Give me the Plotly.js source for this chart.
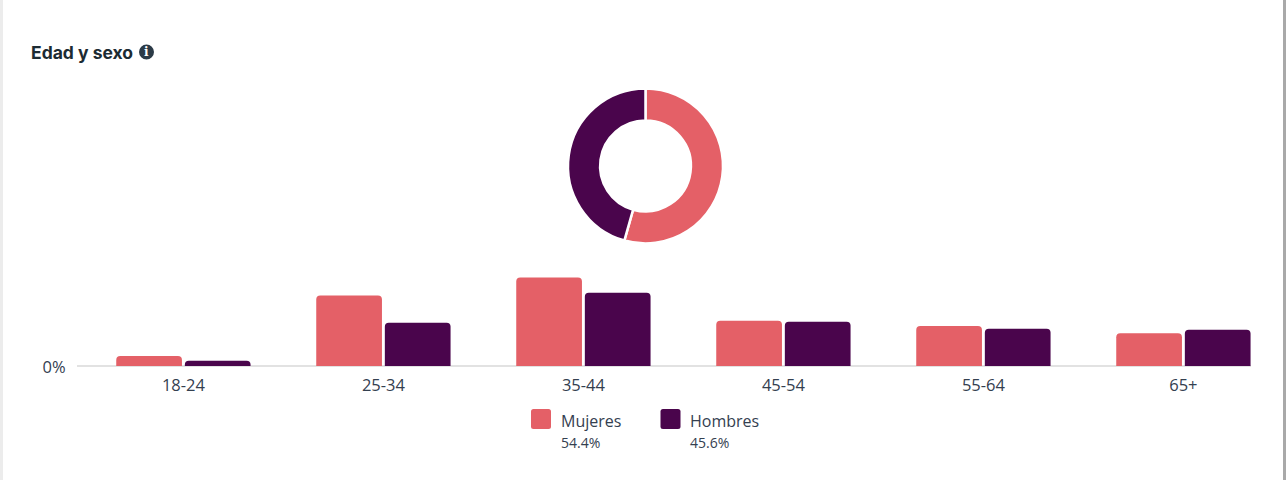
<!DOCTYPE html>
<html>
<head>
<meta charset="utf-8">
<script src="https://cdn.plot.ly/plotly-3.0.1.min.js"></script>
<style>html,body{margin:0;padding:0;background:#fff;overflow:hidden}#chart{width:1286px;height:480px}</style>
</head>
<body>
<div id="chart"></div>
<script>
const categories = ["18-24", "25-34", "35-44", "45-54", "55-64", "65+"];
const mujeres = [1.9, 13.4, 16.8, 8.6, 7.6, 6.2];
const hombres = [1.0, 8.2, 13.9, 8.4, 7.1, 6.9];
const seriesNames = ["Mujeres", "Hombres"];
const shares = [54.4, 45.6];
const shareLabels = ["54.4%", "45.6%"];
const titleText = "Edad y sexo";
const yTickValues = [0];
const yTickLabels = ["0%"];
const rose = "#E46067";
const plum = "#4A054C";
const W = 1286, H = 480;
const px = v => v / W, py = v => 1 - v / H;
const font = "'Open Sans', 'Noto Sans', sans-serif";
const ink = "#344050";

function swatch(x, y, s, r, color) {
  const x0 = px(x), x1 = px(x + s), y0 = py(y), y1 = py(y + s);
  const rx = r / W, ry = r / H;
  return {
    type: "path", xref: "paper", yref: "paper", fillcolor: color, line: {width: 0},
    path: `M${x0 + rx},${y0} L${x1 - rx},${y0} Q${x1},${y0} ${x1},${y0 - ry} L${x1},${y1 + ry} Q${x1},${y1} ${x1 - rx},${y1} L${x0 + rx},${y1} Q${x0},${y1} ${x0},${y1 + ry} L${x0},${y0 - ry} Q${x0},${y0} ${x0 + rx},${y0} Z`
  };
}
function label(x, y, text, size, color, extra) {
  return Object.assign({
    xref: "paper", yref: "paper", x: px(x), y: py(y), text, showarrow: false,
    xanchor: "left", yanchor: "middle", align: "left",
    font: {family: font, size, color}
  }, extra || {});
}

const traces = [
  {type: "bar", name: seriesNames[0], x: categories, y: mujeres, marker: {color: rose, cornerradius: 4}, hoverinfo: "skip"},
  {type: "bar", name: seriesNames[1], x: categories, y: hombres, marker: {color: plum, cornerradius: 4}, hoverinfo: "skip"},
  {type: "pie", labels: seriesNames, values: shares, hole: 0.586, sort: false, direction: "clockwise", rotation: 0,
   textinfo: "none", hoverinfo: "skip", showlegend: false,
   marker: {colors: [rose, plum], line: {color: "#ffffff", width: 2.5}},
   domain: {x: [px(645.5 - 77.5), px(645.5 + 77.5)], y: [py(166 + 77.5), py(166 - 77.5)]}}
];

const layout = {
  width: W, height: H, margin: {l: 0, r: 0, t: 0, b: 0},
  paper_bgcolor: "#ffffff", plot_bgcolor: "#ffffff", showlegend: false,
  barmode: "group", bargap: 0.314, bargroupgap: 0.042,
  font: {family: font, color: ink},
  xaxis: {
    type: "category", domain: [px(77), px(1251)], range: [-0.532, 5.338], anchor: "y",
    showgrid: false, zeroline: false, showline: false, fixedrange: true,
    ticks: "outside", ticklen: 4, tickcolor: "rgba(0,0,0,0)",
    tickfont: {family: font, size: 16.5, color: ink}
  },
  yaxis: {
    domain: [py(366), py(250)], range: [0, 22.04], anchor: "x",
    tickmode: "array", tickvals: yTickValues, ticktext: yTickLabels,
    showgrid: false, zeroline: true, zerolinecolor: "#e2e2e2", zerolinewidth: 2,
    showline: false, fixedrange: true, ticks: "outside", ticklen: 7, tickcolor: "rgba(0,0,0,0)",
    tickfont: {family: font, size: 16.5, color: ink}, ticklabelshift: 1
  },
  shapes: [
    {type: "rect", xref: "paper", yref: "paper", x0: 0, x1: px(3), y0: 0, y1: 1, fillcolor: "#ececec", line: {width: 0}},
    {type: "rect", xref: "paper", yref: "paper", x0: px(1283), x1: 1, y0: 0, y1: 1, fillcolor: "#a9a9a9", line: {width: 0}},
    swatch(531, 409, 20, 2.5, rose),
    swatch(660.5, 409, 20, 2.5, plum),
    {type: "circle", xref: "paper", yref: "paper", x0: px(139), x1: px(154), y0: py(59.5), y1: py(44.5), fillcolor: "#2b3a47", line: {width: 0}}
  ],
  annotations: [
    label(29, 52, "<b>" + titleText + "</b>", 17.5, "#1c2b33", {font: {family: "Inter, 'Open Sans', sans-serif", size: 17.5, color: "#1c2b33"}}),
    label(146.5, 52, "<b>i</b>", 11, "#ffffff", {xanchor: "center", font: {family: "'DejaVu Serif', serif", size: 12, color: "#ffffff"}}),
    label(559, 421, seriesNames[0], 16, ink),
    label(688, 421, seriesNames[1], 16, ink),
    label(559, 442.5, shareLabels[0], 14, ink),
    label(688, 442.5, shareLabels[1], 14, ink)
  ]
};
Plotly.newPlot("chart", traces, layout, {displayModeBar: false, staticPlot: true});
</script>
</body>
</html>
